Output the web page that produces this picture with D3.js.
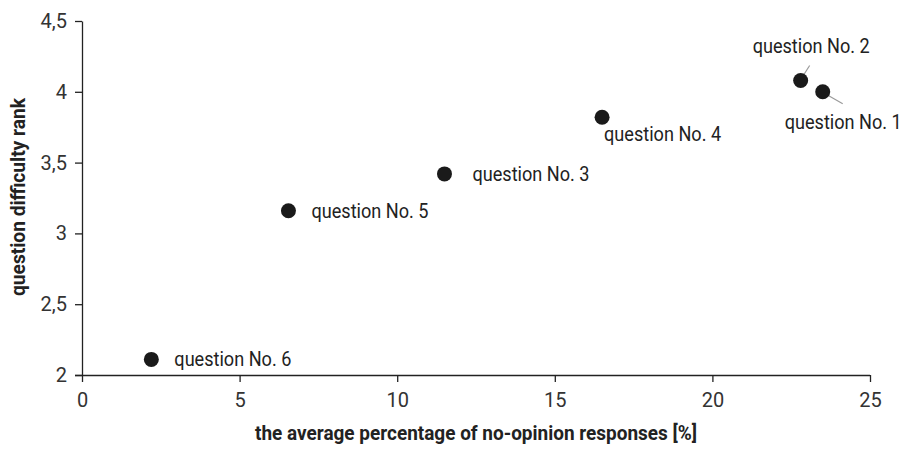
<!DOCTYPE html>
<html><head><meta charset="utf-8">
<script src="https://cdn.jsdelivr.net/npm/d3@7"></script>
<style>
body{margin:0;background:#fff;}
text{font-family:Roboto,"DejaVu Sans Condensed",sans-serif;}
</style></head>
<body>
<svg id="c" width="909" height="450"></svg>
<script>
const labels = ["question No. 1","question No. 2","question No. 3","question No. 4","question No. 5","question No. 6"];
const xValues = [23.5, 22.8, 11.5, 16.5, 6.55, 2.2];
const yValues = [4.0, 4.08, 3.42, 3.82, 3.16, 2.11];
const xTicks = [0,5,10,15,20,25];
const yTicks = [2,2.5,3,3.5,4,4.5];
const labelPos = [
  {dx:-38, dy:37, leader:[6,4,20,12]},
  {dx:-48, dy:-27, leader:[2,-4,9,-15]},
  {dx:28, dy:7},
  {dx:2, dy:24},
  {dx:23, dy:7},
  {dx:23, dy:7}
];
const svg = d3.select("#c");
const x = d3.scaleLinear().domain([0,25]).range([82,870]);
const y = d3.scaleLinear().domain([2,4.5]).range([375,21]);
const fmt = d => String(d).replace(".", ",");

const gx = svg.append("g").attr("transform","translate(0,375)")
  .call(d3.axisBottom(x).tickValues(xTicks).tickSize(7).tickSizeOuter(0).tickPadding(11).tickFormat(fmt));
const gy = svg.append("g").attr("transform","translate(82,0)")
  .call(d3.axisLeft(y).tickValues(yTicks).tickSize(7).tickSizeOuter(0).tickPadding(8).tickFormat(fmt));
[gx,gy].forEach(g=>{
  g.select(".domain").attr("stroke","#222").attr("stroke-width",1.3);
  g.selectAll(".tick line").attr("stroke","#222").attr("stroke-width",1.3);
  g.selectAll(".tick text").attr("font-size",20).attr("fill","#333")
   .attr("font-family","Roboto,'DejaVu Sans Condensed',sans-serif");
});
gx.select(".domain").attr("d","M75,0.5H870");

svg.append("text").attr("x",476).attr("y",440).attr("text-anchor","middle")
  .attr("font-size",20).attr("font-weight","bold").attr("fill","#222")
  .attr("textLength",442).attr("lengthAdjust","spacingAndGlyphs")
  .text("the average percentage of no-opinion responses [%]");
svg.append("text").attr("transform","translate(25,197) rotate(-90)").attr("text-anchor","middle")
  .attr("font-size",20).attr("font-weight","bold").attr("fill","#222")
  .attr("textLength",198).attr("lengthAdjust","spacingAndGlyphs")
  .text("question difficulty rank");

const pts = labels.map((l,i)=>({l, x:xValues[i], y:yValues[i], p:labelPos[i]}));
pts.forEach(d=>{
  if(d.p.leader){
    const L=d.p.leader;
    svg.append("line").attr("x1",x(d.x)+L[0]).attr("y1",y(d.y)+L[1])
      .attr("x2",x(d.x)+L[2]).attr("y2",y(d.y)+L[3]).attr("stroke","#999").attr("stroke-width",1.2);
  }
});
svg.selectAll("circle.pt").data(pts).join("circle").attr("class","pt")
  .attr("cx",d=>x(d.x)).attr("cy",d=>y(d.y)).attr("r",7.5).attr("fill","#1a1a1a");
svg.selectAll("text.lab").data(pts).join("text").attr("class","lab")
  .attr("x",d=>x(d.x)+d.p.dx).attr("y",d=>y(d.y)+d.p.dy)
  .attr("font-size",20).attr("fill","#222")
  .attr("textLength",117).attr("lengthAdjust","spacingAndGlyphs").text(d=>d.l);
</script>
</body></html>
